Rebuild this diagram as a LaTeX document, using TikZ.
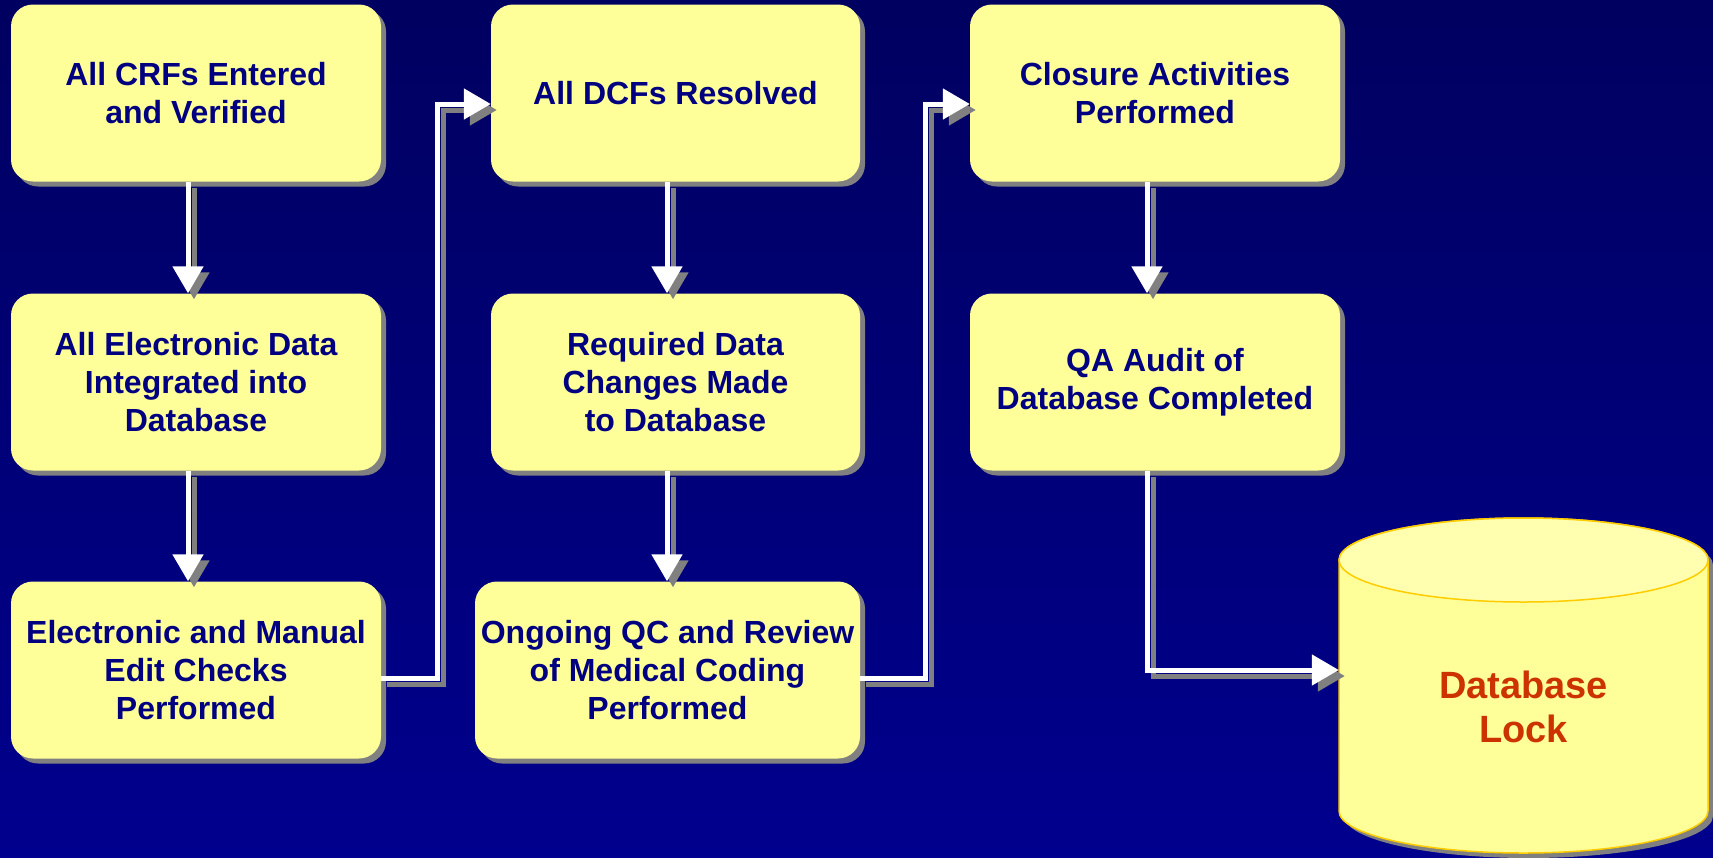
\documentclass[tikz,border=0pt]{standalone}
\usepackage{fontspec}
\setmainfont{Liberation Sans}
\usetikzlibrary{arrows.meta,shadows}
\definecolor{bgtop}{RGB}{0,0,96}
\definecolor{bgbot}{RGB}{0,0,142}
\definecolor{boxfill}{RGB}{255,255,153}
\definecolor{boxtop}{RGB}{255,255,175}
\definecolor{shadowgray}{RGB}{128,128,128}
\definecolor{navytext}{RGB}{0,0,128}
\definecolor{locktext}{RGB}{204,51,0}
\definecolor{cylborder}{RGB}{255,204,0}
\tikzset{
  stepbox/.style={rectangle, rounded corners=22pt, fill=boxfill, draw=none,
    minimum width=370pt, minimum height=177pt, align=center, inner sep=0pt,
    text=navytext, font=\fontsize{32}{38}\selectfont\bfseries,
    general shadow={fill=shadowgray, shadow xshift=5pt, shadow yshift=-5pt}},
  flow/.style={draw=white, line width=5pt, -{Triangle[width=30pt,length=27pt]}},
  flowshadow/.style={draw=shadowgray, line width=5pt, -{Triangle[width=30pt,length=27pt]},
    transform canvas={shift={(6pt,-6pt)}}},
}
\begin{document}
\begin{tikzpicture}[x=1pt,y=1pt]
\useasboundingbox (0,0) rectangle (1713,-857);
\shade[top color=bgtop, bottom color=bgbot] (0,0) rectangle (1713,-857);

% column 1
\node[stepbox] (n1) at (196,-93) {All CRFs Entered\\and Verified};
\node[stepbox] (n2) at (196,-382) {All Electronic Data\\Integrated into\\Database};
\node[stepbox] (n3) at (196,-670) {Electronic and Manual\\Edit Checks\\Performed};
% column 2
\node[stepbox, minimum width=369pt] (n4) at (675.5,-93) {All DCFs Resolved};
\node[stepbox, minimum width=369pt] (n5) at (675.5,-382) {Required Data\\Changes Made\\to Database};
\node[stepbox, minimum width=385pt] (n6) at (667.5,-670) {Ongoing QC and Review\\of Medical Coding\\Performed};
% column 3
\node[stepbox] (n7) at (1155,-93) {Closure Activities\\Performed};
\node[stepbox] (n8) at (1155,-382) {QA Audit of\\Database Completed};

% cylinder (shadow then body)
\fill[shadowgray] (1344,-565) -- (1344,-816)
  arc[start angle=180, end angle=360, x radius=184.5, y radius=42] -- (1713,-565)
  arc[start angle=0, end angle=180, x radius=184.5, y radius=42] -- cycle;
\filldraw[fill=boxfill, draw=cylborder, line width=1.5pt] (1339,-560) -- (1339,-811)
  arc[start angle=180, end angle=360, x radius=184.5, y radius=42] -- (1708,-560)
  arc[start angle=0, end angle=180, x radius=184.5, y radius=42] -- cycle;
\filldraw[fill=boxtop, draw=cylborder, line width=1.5pt] (1523.5,-560) ellipse[x radius=184.5, y radius=42];
\node[inner sep=0pt, minimum width=369pt, align=center, text=locktext,
  font=\fontsize{38}{44}\selectfont\bfseries] (db) at (1523.5,-707) {Database\\Lock};

% connector shadows
\draw[flowshadow] ([xshift=-8pt]n1.south) -- ([xshift=-8pt]n2.north);
\draw[flowshadow] ([xshift=-8pt]n2.south) -- ([xshift=-8pt]n3.north);
\draw[flowshadow] ([xshift=-8.5pt]n4.south) -- ([xshift=-8.5pt]n5.north);
\draw[flowshadow] ([xshift=-8.5pt]n5.south) -- ([xshift=-8.5pt]n5.south |- n6.north);
\draw[flowshadow] ([xshift=-8pt]n7.south) -- ([xshift=-8pt]n8.north);
\draw[flowshadow] ([yshift=-8pt]n3.east) -- ++(56,0) |- ([yshift=-11pt]n4.west);
\draw[flowshadow] ([yshift=-8pt]n6.east) -- ++(65,0) |- ([yshift=-11pt]n7.west);
\draw[flowshadow] ([xshift=-8pt]n8.south) |- ([yshift=37pt]db.west);

% connectors
\draw[flow] ([xshift=-8pt]n1.south) -- ([xshift=-8pt]n2.north);
\draw[flow] ([xshift=-8pt]n2.south) -- ([xshift=-8pt]n3.north);
\draw[flow] ([xshift=-8.5pt]n4.south) -- ([xshift=-8.5pt]n5.north);
\draw[flow] ([xshift=-8.5pt]n5.south) -- ([xshift=-8.5pt]n5.south |- n6.north);
\draw[flow] ([xshift=-8pt]n7.south) -- ([xshift=-8pt]n8.north);
\draw[flow] ([yshift=-8pt]n3.east) -- ++(56,0) |- ([yshift=-11pt]n4.west);
\draw[flow] ([yshift=-8pt]n6.east) -- ++(65,0) |- ([yshift=-11pt]n7.west);
\draw[flow] ([xshift=-8pt]n8.south) |- ([yshift=37pt]db.west);
\end{tikzpicture}
\end{document}
